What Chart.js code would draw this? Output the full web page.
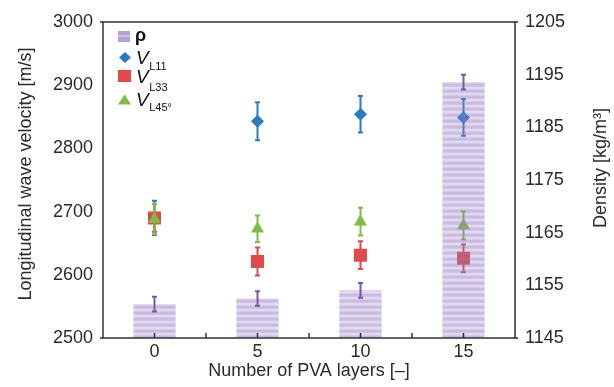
<!DOCTYPE html>
<html>
<head>
<meta charset="utf-8">
<script src="https://cdn.jsdelivr.net/npm/chart.js@4"></script>
<style>
  html, body { margin: 0; padding: 0; background: #fff; }
  canvas { display: block; }
</style>
</head>
<body>
<canvas id="chart" width="614" height="387"></canvas>
<script>
// data
const layers = ['0', '5', '10', '15'];
const density = [1151.45, 1152.5, 1154.05, 1193.6];
const densityErr = [1.4, 1.4, 1.4, 1.4];
const vL11 = [2690, 2843, 2854, 2849];
const vL11Err = [27, 30, 29, 29];
const vL33 = [2690, 2621, 2631, 2626];
const vL33Err = [22, 22, 22, 22];
const vL45 = [2688, 2673, 2684, 2678];
const vL45Err = [24, 21, 22, 22];
const velocityRange = [2500, 3000];
const densityRange = [1145, 1205];

const FONT = 'Arial, "Liberation Sans", sans-serif';
const TEXT = '#2a2a2a';

// striped lavender fill for the density bars
function stripes() {
  const c = document.createElement('canvas');
  c.width = 1; c.height = 6;
  const g = c.getContext('2d');
  const alphas = [0.5, 0.5, 0.45, 0.28, 0.28, 0.4];
  alphas.forEach((a, i) => {
    g.fillStyle = 'rgba(150,122,196,' + a + ')';
    g.fillRect(0, i, 1, 1);
  });
  return g.createPattern(c, 'repeat');
}

// error bars drawn right after their own dataset so stacking order is kept
const errorBars = {
  id: 'errorBars',
  afterDatasetDraw(chart, args) {
    const ds = chart.data.datasets[args.index];
    if (!ds.errors) return;
    const meta = args.meta;
    const scale = chart.scales[meta.yAxisID];
    const ctx = chart.ctx;
    ctx.save();
    ctx.strokeStyle = ds.errorColor;
    ctx.lineWidth = 2;
    meta.data.forEach((el, i) => {
      const v = ds.data[i];
      const x = el.x;
      const yTop = scale.getPixelForValue(v + ds.errors[i]);
      const yBot = scale.getPixelForValue(v - ds.errors[i]);
      ctx.beginPath();
      ctx.moveTo(x, yTop); ctx.lineTo(x, yBot);
      ctx.moveTo(x - 2.5, yTop); ctx.lineTo(x + 2.5, yTop);
      ctx.moveTo(x - 2.5, yBot); ctx.lineTo(x + 2.5, yBot);
      ctx.stroke();
    });
    ctx.restore();
  }
};

// frame, x ticks, axis titles and the legend
const decorations = {
  id: 'decorations',
  afterDraw(chart) {
    const ctx = chart.ctx;
    const a = chart.chartArea;
    const xs = chart.scales.x;
    ctx.save();
    ctx.strokeStyle = '#333';
    ctx.lineWidth = 1.5;
    ctx.strokeRect(a.left, a.top, a.right - a.left, a.bottom - a.top);
    ctx.beginPath();
    ctx.moveTo(a.left - 3, a.top); ctx.lineTo(a.left, a.top);
    ctx.moveTo(a.left - 3, a.bottom); ctx.lineTo(a.left, a.bottom);
    ctx.moveTo(a.right, a.top); ctx.lineTo(a.right + 3, a.top);
    ctx.moveTo(a.right, a.bottom); ctx.lineTo(a.right + 3, a.bottom);
    ctx.stroke();

    // inward ticks on the x axis
    ctx.beginPath();
    const step = (a.right - a.left) / layers.length;
    for (let i = 0; i < layers.length; i++) {
      const cx = xs.getPixelForValue(i);
      ctx.moveTo(cx, a.bottom); ctx.lineTo(cx, a.bottom - 5);
      if (i > 0) {
        ctx.moveTo(cx - step / 2, a.bottom); ctx.lineTo(cx - step / 2, a.bottom - 5);
      }
    }
    ctx.stroke();

    // axis titles
    ctx.fillStyle = TEXT;
    ctx.font = '18px ' + FONT;
    ctx.textAlign = 'center';
    ctx.textBaseline = 'alphabetic';
    ctx.fillText('Number of PVA layers [\u2013]', (a.left + a.right) / 2, 376);

    ctx.save();
    ctx.translate(31, 174);
    ctx.rotate(-Math.PI / 2);
    ctx.fillText('Longitudinal wave velocity [m/s]', 0, 0);
    ctx.restore();

    ctx.save();
    ctx.translate(606, 168);
    ctx.rotate(-Math.PI / 2);
    ctx.fillText('Density [kg/m\u00b3]', 0, 0);
    ctx.restore();

    // legend
    ctx.textAlign = 'left';
    ctx.fillStyle = 'rgba(150,122,196,0.7)';
    ctx.fillRect(118, 31, 12, 11);
    ctx.fillStyle = 'rgba(255,255,255,0.35)';
    ctx.fillRect(118, 35, 12, 2);
    ctx.fillStyle = '#111';
    ctx.font = 'bold 18px ' + FONT;
    ctx.fillText('\u03c1', 135, 41);

    ctx.fillStyle = '#2a7bc4';
    ctx.beginPath();
    ctx.moveTo(125, 52); ctx.lineTo(131, 57.5); ctx.lineTo(125, 63); ctx.lineTo(119, 57.5);
    ctx.closePath(); ctx.fill();

    ctx.fillStyle = '#e04a4b';
    ctx.fillRect(118, 70, 13, 12);

    ctx.fillStyle = '#80bb45';
    ctx.beginPath();
    ctx.moveTo(124.5, 94.5); ctx.lineTo(131, 104.5); ctx.lineTo(118, 104.5);
    ctx.closePath(); ctx.fill();

    const vLabels = [['L11', 63.5, 70], ['L33', 83, 90.5], ['L45\u00b0', 106, 110.5]];
    vLabels.forEach(([sub, yb, ys]) => {
      ctx.fillStyle = '#111';
      ctx.font = 'italic 19px ' + FONT;
      ctx.fillText('V', 136, yb);
      const w = ctx.measureText('V').width;
      ctx.font = '11px ' + FONT;
      ctx.fillText(sub, 136 + w + 0.5, ys);
    });
    ctx.restore();
  }
};

const plainTick = (v) => String(v);

const ctx = document.getElementById('chart').getContext('2d');
new Chart(ctx, {
  type: 'bar',
  data: {
    labels: layers,
    datasets: [
      {
        label: '\u03c1',
        data: density,
        errors: densityErr,
        errorColor: '#7d55aa',
        yAxisID: 'y1',
        backgroundColor: stripes(),
        borderWidth: 0,
        barPercentage: 0.41,
        categoryPercentage: 1,
        order: 0
      },
      {
        type: 'line',
        label: 'VL45',
        data: vL45,
        errors: vL45Err,
        errorColor: '#80bb45',
        yAxisID: 'y',
        showLine: false,
        pointStyle: 'triangle',
        pointRadius: 7.5,
        pointBackgroundColor: '#80bb45',
        pointBorderWidth: 0,
        order: 1
      },
      {
        type: 'line',
        label: 'VL33',
        data: vL33,
        errors: vL33Err,
        errorColor: '#e04a4b',
        yAxisID: 'y',
        showLine: false,
        pointStyle: 'rect',
        pointRadius: 9.2,
        pointBackgroundColor: '#e04a4b',
        pointBorderWidth: 0,
        order: 2
      },
      {
        type: 'line',
        label: 'VL11',
        data: vL11,
        errors: vL11Err,
        errorColor: '#2a7bc4',
        yAxisID: 'y',
        showLine: false,
        pointStyle: 'rectRot',
        pointRadius: 6.5,
        pointBackgroundColor: '#2a7bc4',
        pointBorderWidth: 0,
        order: 3
      }
    ]
  },
  options: {
    responsive: false,
    animation: false,
    layout: { padding: { top: 22, left: 0, right: 0, bottom: 0 } },
    plugins: {
      legend: { display: false },
      tooltip: { enabled: false }
    },
    scales: {
      x: {
        offset: true,
        grid: { display: false, drawTicks: false },
        border: { display: false },
        ticks: { color: TEXT, font: { family: FONT, size: 18 }, padding: 3 },
        afterFit(scale) { scale.height = 49; }
      },
      y: {
        position: 'left',
        min: velocityRange[0],
        max: velocityRange[1],
        grid: { display: false, drawTicks: false },
        border: { display: false },
        ticks: { stepSize: 100, color: TEXT, font: { family: FONT, size: 18 }, padding: 10, callback: plainTick },
        afterFit(scale) { scale.width = 103; }
      },
      y1: {
        position: 'right',
        min: densityRange[0],
        max: densityRange[1],
        grid: { display: false, drawTicks: false },
        border: { display: false },
        ticks: { stepSize: 10, color: TEXT, font: { family: FONT, size: 18 }, padding: 10, callback: plainTick },
        afterFit(scale) { scale.width = 99; }
      }
    }
  },
  plugins: [errorBars, decorations]
});
</script>
</body>
</html>
